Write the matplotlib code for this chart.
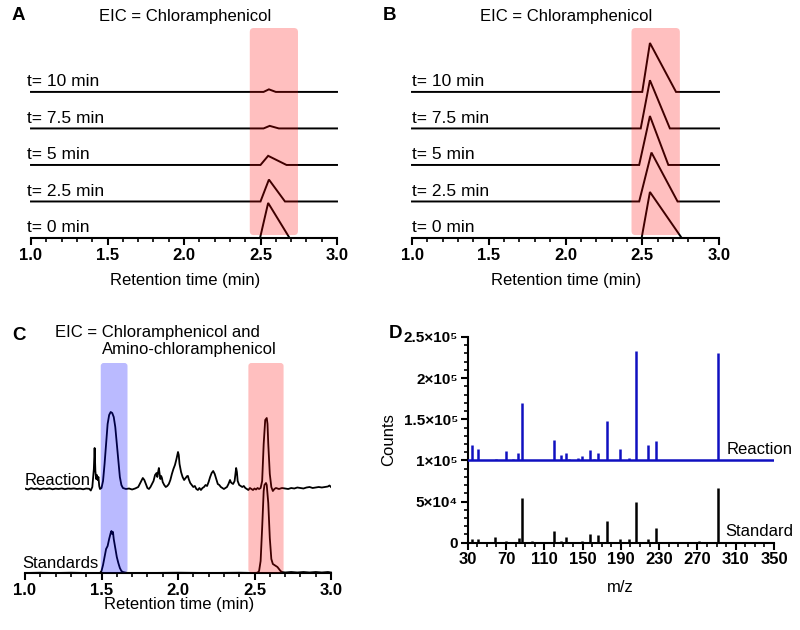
import matplotlib
matplotlib.use('Agg')
import matplotlib.pyplot as plt
from matplotlib.patches import FancyBboxPatch
from matplotlib.ticker import MultipleLocator, FixedLocator, FixedFormatter

plt.rcParams['font.family'] = ['Liberation Sans', 'DejaVu Sans']

# ---------------- data ----------------
trace_labels = ['t= 0 min', 't= 2.5 min', 't= 5 min', 't= 7.5 min', 't= 10 min']

a_x = [[1.0, 2.497, 2.55, 2.69, 3.0],
       [1.0, 2.50, 2.555, 2.66, 3.0],
       [1.0, 2.50, 2.55, 2.67, 3.0],
       [1.0, 2.52, 2.56, 2.62, 3.0],
       [1.0, 2.52, 2.555, 2.60, 3.0]]
a_y = [[0, 0, 0.96, 0, 0],
       [0, 0, 0.60, 0, 0],
       [0, 0, 0.25, 0, 0],
       [0, 0, 0.07, 0, 0],
       [0, 0, 0.07, 0, 0]]

b_x = [[1.0, 2.496, 2.55, 2.757, 3.0],
       [1.0, 2.48, 2.56, 2.73, 3.0],
       [1.0, 2.48, 2.55, 2.67, 3.0],
       [1.0, 2.49, 2.55, 2.68, 3.0],
       [1.0, 2.50, 2.55, 2.72, 3.0]]
b_y = [[0, 0, 1.26, 0, 0],
       [0, 0, 1.34, 0, 0],
       [0, 0, 1.34, 0, 0],
       [0, 0, 1.32, 0, 0],
       [0, 0, 1.34, 0, 0]]

c_time_reaction = [1.00, 1.02, 1.04, 1.06, 1.08, 1.10, 1.12, 1.14, 1.16, 1.18, 1.20, 1.22, 1.24, 1.26,
                   1.28, 1.30, 1.32, 1.34, 1.36, 1.38, 1.40, 1.42, 1.43, 1.44, 1.45, 1.455, 1.46, 1.465,
                   1.47, 1.475, 1.48, 1.485, 1.49, 1.50, 1.51, 1.52, 1.53, 1.54, 1.55, 1.56, 1.57, 1.58,
                   1.59, 1.60, 1.61, 1.62, 1.63, 1.64, 1.66, 1.68, 1.70, 1.72, 1.74, 1.76, 1.77, 1.78,
                   1.79, 1.80, 1.81, 1.82, 1.84, 1.85, 1.86, 1.865, 1.87, 1.875, 1.88, 1.885, 1.89, 1.895,
                   1.90, 1.91, 1.92, 1.93, 1.94, 1.95, 1.96, 1.97, 1.98, 1.99, 2.00, 2.005, 2.01, 2.02,
                   2.03, 2.04, 2.05, 2.06, 2.065, 2.07, 2.08, 2.09, 2.10, 2.11, 2.12, 2.13, 2.14, 2.15,
                   2.16, 2.17, 2.18, 2.19, 2.20, 2.21, 2.22, 2.23, 2.24, 2.25, 2.26, 2.27, 2.28, 2.29,
                   2.30, 2.31, 2.32, 2.33, 2.34, 2.345, 2.35, 2.36, 2.37, 2.38, 2.385, 2.39, 2.40, 2.41,
                   2.42, 2.43, 2.44, 2.45, 2.46, 2.47, 2.48, 2.49, 2.50, 2.51, 2.52, 2.53, 2.54, 2.55,
                   2.56, 2.57, 2.58, 2.585, 2.59, 2.60, 2.61, 2.62, 2.63, 2.64, 2.66, 2.68, 2.70, 2.72,
                   2.74, 2.76, 2.78, 2.80, 2.82, 2.84, 2.86, 2.88, 2.90, 2.92, 2.94, 2.96, 2.98, 2.99, 3.00]
c_reaction = [0.5, -0.5, 0.8, 0, 0.6, -0.4, 0.5, 0, 0.7, -0.3, 0.4, 0, 0.6, -0.2,
              0.5, 0.2, 0.6, 0, 0.4, -0.3, 0.5, 0.2, -1.5, 2, 20, 41, 18, 10,
              14, 9, 12, 3, 0, 1, 8, 25, 45, 65, 74, 77, 76, 72,
              62, 45, 28, 12, 4, 1, 0, 0.5, -0.5, 0.5, 2, 8, 11, 9,
              5, 1, 0, 2, 8, 14, 16, 12, 17, 21, 15, 10, 13, 11,
              7, 4, 2, 3, 5, 9, 15, 20, 24, 30, 37, 34, 25, 17,
              12, 9, 11, 13, 13, 10, 6, 4, 2, 3, 0, -1, 1, -1,
              1, 2, 4, 3, 7, 12, 16, 18, 15, 10, 5, 4, 2, 1,
              0, 1, 2, 5, 9, 7, 6, 5, 8, 21, 17, 8, 4, 3,
              2, 3, 1, 0, -1, 1, 0, -1, 0.5, -0.5, 1, 0, 1, 8,
              45, 69, 71, 65, 45, 15, 2, -2, 0, 1, 0, 1, 0.5, 0,
              1, 0.5, 1.5, 1, 0.5, 1.5, 2, 1, 1.5, 2, 1.5, 2, 2.5, 3.5, 2]

c_time_std = [1.00, 1.10, 1.20, 1.30, 1.40, 1.49, 1.50, 1.51, 1.52, 1.53, 1.54, 1.55, 1.56, 1.565,
              1.57, 1.575, 1.58, 1.59, 1.60, 1.61, 1.62, 1.63, 1.64, 1.66, 1.68, 1.80, 2.00, 2.20,
              2.40, 2.50, 2.52, 2.53, 2.54, 2.55, 2.56, 2.565, 2.57, 2.575, 2.58, 2.59, 2.60, 2.61,
              2.62, 2.63, 2.64, 2.65, 2.66, 2.67, 2.68, 2.70, 2.74, 2.78, 2.82, 2.86, 2.90, 2.94, 2.98, 3.00]
c_standards = [0, 0.3, 0, 0.3, 0, 0, 2, 8, 16, 24, 27, 34, 40, 42,
               39, 41, 34, 25, 16, 10, 5, 2, 1, 0.3, 0, 0, 0.3, 0,
               0.3, 0, 0.3, 2, 12, 45, 82, 88, 89, 90, 88, 70, 35, 14,
               9, 8, 7, 6, 4, 2, 1, 0.5, 1, 0.5, 1, 0.5, 1, 0.5, 1, 0.5]

d_mz_reaction = [35, 41, 60, 70, 77, 83, 87, 98, 111, 120, 127, 133, 136, 145, 149, 158, 162,
                 166, 176, 189, 199, 206, 218, 227, 236, 257, 273, 292]
d_int_reaction = [19000, 13500, 2000, 11500, 2000, 9000, 69500, 1000, 1000, 25000, 7000, 9000,
                  2000, 3000, 5000, 13000, 2000, 9000, 47500, 14000, 3000, 133000, 19000, 23000,
                  1000, 500, 1000, 131000]
d_mz_std = [35, 41, 59, 70, 84, 87, 97, 120, 127, 133, 149, 158, 166, 176, 189, 199, 206, 218,
            227, 272, 292]
d_int_std = [5000, 5000, 7000, 2000, 6000, 54000, 2000, 14000, 2000, 7000, 2000, 10000, 9000,
             26000, 5000, 4000, 50000, 5000, 18000, 2000, 66000]
d_xtick_values = [30, 70, 110, 150, 190, 230, 270, 310, 350]
d_ytick_values = [0, 50000, 100000, 150000, 200000, 250000]
d_ytick_labels = ['0', '5×10⁴', '1×10⁵', '1.5×10⁵', '2×10⁵', '2.5×10⁵']

# ---------------- layout helpers ----------------
W, H = 800, 630
fig = plt.figure(figsize=(8, 6.3), dpi=100)


def ax_px(l, r, b, t):
    return fig.add_axes([l / W, 1 - b / H, (r - l) / W, (b - t) / H])


def ftext(x, y, s, **kw):
    fig.text(x / W, 1 - y / H, s, **kw)


def rounded_span(ax, x0, x1, y0, y1, color, alpha, r_px=4):
    bb = ax.get_position()
    xppu = bb.width * W / (ax.get_xlim()[1] - ax.get_xlim()[0])
    yppu = bb.height * H / (ax.get_ylim()[1] - ax.get_ylim()[0])
    p = FancyBboxPatch((x0, y0), x1 - x0, y1 - y0,
                       boxstyle=f"round,pad=0,rounding_size={r_px / xppu}",
                       mutation_aspect=xppu / yppu, facecolor=color, edgecolor='none',
                       alpha=alpha, zorder=5)
    ax.add_patch(p)


TICKFS = 12
DTICKFS = 11
LABFS = 12
TRACEFS = 12.5
LETTERFS = 13.5
LW_SP = 1.5


def style_time_axis(ax):
    for s in ['top', 'right', 'left']:
        ax.spines[s].set_visible(False)
    ax.spines['bottom'].set_linewidth(LW_SP)
    ax.set_xlim(1.0, 3.0)
    ax.xaxis.set_minor_locator(MultipleLocator(0.1))
    ax.set_xticks([1.0, 1.5, 2.0, 2.5, 3.0])
    ax.set_xticklabels(['1.0', '1.5', '2.0', '2.5', '3.0'], fontweight='bold', fontsize=TICKFS)
    ax.tick_params(axis='x', which='major', length=5, width=LW_SP, pad=2)
    ax.tick_params(axis='x', which='minor', length=3, width=1.2)
    ax.set_yticks([])
    ax.patch.set_alpha(0)


# ---------------- panels A and B ----------------
for key, xs, ys, left, right, title_cx, lab_x in [
        ('A', a_x, a_y, 31, 337, 185, 0.974),
        ('B', b_x, b_y, 412, 719, 566, 1.0)]:
    ax = ax_px(left, right, 238, 28)
    style_time_axis(ax)
    ax.set_ylim(0, 5.75)
    for i, (x, y) in enumerate(zip(xs, ys)):
        ax.plot(x, [v + i for v in y], color='black', lw=1.4, zorder=3,
                solid_joinstyle='miter', clip_on=False)
        ax.text(lab_x, i + 0.08, trace_labels[i], fontsize=TRACEFS, va='bottom', ha='left',
                clip_on=False)
    rounded_span(ax, 2.43, 2.745, 0.08, 5.75, 'red', 0.25)
    ftext(title_cx, 17, 'EIC = Chloramphenicol', fontsize=LABFS, ha='center', va='center')
    ftext(title_cx, 281, 'Retention time (min)', fontsize=LABFS, ha='center', va='center')

ftext(12, 16, 'A', fontsize=LETTERFS, fontweight='bold', va='center', ha='left')
ftext(383, 16, 'B', fontsize=LETTERFS, fontweight='bold', va='center', ha='left')

# ---------------- panel C ----------------
axc = ax_px(25, 331, 573, 363)
style_time_axis(axc)
axc.set_ylim(0, 210)
reaction_offset = 84
axc.plot(c_time_reaction, [v + reaction_offset for v in c_reaction], color='black', lw=1.3, zorder=3)
axc.plot(c_time_std, c_standards, color='black', lw=1.3, zorder=3, clip_on=False)
rounded_span(axc, 1.495, 1.67, 0.5, 210, 'blue', 0.27, r_px=3)
rounded_span(axc, 2.46, 2.69, 0.5, 210, 'red', 0.25, r_px=3)
axc.text(1.0, reaction_offset + 1, 'Reaction', fontsize=LABFS, va='bottom', ha='left')
axc.text(0.98, 1.5, 'Standards', fontsize=LABFS, va='bottom', ha='left')
ftext(12, 336, 'C', fontsize=LETTERFS, fontweight='bold', va='center', ha='left')
ftext(55, 337, 'EIC = Chloramphenicol and', fontsize=LABFS, ha='left', va='baseline')
ftext(102, 354, 'Amino-chloramphenicol', fontsize=LABFS, ha='left', va='baseline')
ftext(179, 605, 'Retention time (min)', fontsize=LABFS, ha='center', va='center')

# ---------------- panel D ----------------
axd = ax_px(467.7, 774, 542.7, 337)
for s in ['top', 'right']:
    axd.spines[s].set_visible(False)
for s in ['bottom', 'left']:
    axd.spines[s].set_linewidth(LW_SP)
axd.set_xlim(30, 350)
axd.set_ylim(0, 250000)
spec_offset = 100000
axd.vlines(d_mz_std, 0, d_int_std, color='black', lw=1.8, zorder=3)
axd.axhline(spec_offset, color='#1010c0', lw=1.8, zorder=3)
axd.vlines(d_mz_reaction, spec_offset, [v + spec_offset for v in d_int_reaction],
           color='#1010c0', lw=1.8, zorder=3)
axd.xaxis.set_major_locator(FixedLocator(d_xtick_values))
axd.xaxis.set_minor_locator(MultipleLocator(10))
axd.yaxis.set_major_locator(FixedLocator(d_ytick_values))
axd.yaxis.set_major_formatter(FixedFormatter(d_ytick_labels))
axd.yaxis.set_minor_locator(MultipleLocator(10000))
for lab in axd.get_xticklabels():
    lab.set_fontweight('bold')
    lab.set_fontsize(TICKFS)
for lab in axd.get_yticklabels():
    lab.set_fontweight('bold')
    lab.set_fontsize(DTICKFS)
axd.tick_params(which='major', length=5, width=LW_SP, pad=2)
axd.tick_params(which='minor', length=3, width=1.2)
axd.text(301, spec_offset + 4000, 'Reaction', fontsize=LABFS, va='bottom', ha='left', clip_on=False)
axd.text(299, 4000, 'Standard', fontsize=LABFS, va='bottom', ha='left', clip_on=False)
ftext(620, 588, 'm/z', fontsize=LABFS, ha='center', va='center')
ftext(389, 440, 'Counts', fontsize=LABFS, ha='center', va='center', rotation=90)
ftext(389, 334, 'D', fontsize=LETTERFS, fontweight='bold', va='center', ha='left')

fig.savefig('out.png', dpi=100)
